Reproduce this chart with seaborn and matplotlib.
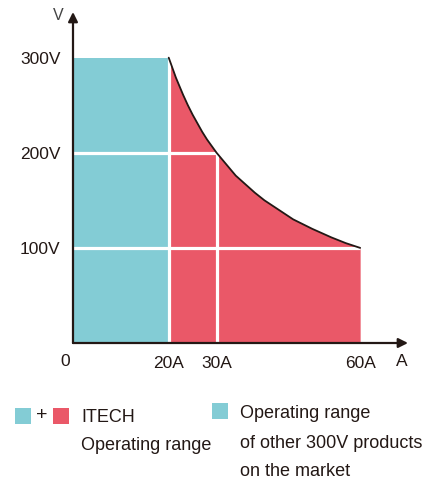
import numpy as np
import pandas as pd
import matplotlib
matplotlib.use("Agg")
import matplotlib.pyplot as plt
from matplotlib.patches import Rectangle
import seaborn as sns

# ---- data ----
other_current = 20      # A, other 300V products
other_voltage = 300     # V
curve_current = [20, 20.5, 21, 21.5, 22, 23, 24, 25, 26, 27, 28, 29, 30, 32, 34, 36,
                 38, 40, 43, 46, 50, 54, 57, 60]
curve_voltage = [300, 293, 286, 279, 273, 261, 250, 240, 231, 222, 214, 207, 200, 188,
                 176, 167, 158, 150, 140, 130, 120, 111, 105, 100]
x_ticks = [20, 30, 60]
x_tick_labels = ["20A", "30A", "60A"]
y_ticks = [100, 200, 300]
y_tick_labels = ["100V", "200V", "300V"]
grid_h = [(100, 60), (200, 30)]   # (voltage, up to current)
grid_v = [(20, 300), (30, 200)]   # (current, up to voltage)
legend_itech = ["ITECH", "Operating range"]
legend_other = ["Operating range", "of other 300V products", "on the market"]

TEAL = "#83CCD5"
RED = "#EA5868"
DARK = "#231815"

sns.set_theme(style="white")
plt.rcParams["font.family"] = ["Liberation Sans", "DejaVu Sans"]

W, H = 443, 482
fig = plt.figure(figsize=(W / 100, H / 100), dpi=100)
ax = fig.add_axes([73 / W, 1 - 343 / H, 335 / W, 331 / H])
ax.set_xlim(0, 70)
ax.set_ylim(0, 348)

df = pd.DataFrame({"I": curve_current, "V": curve_voltage})

# other products rectangle
ax.add_patch(Rectangle((0, 0), other_current, other_voltage, facecolor=TEAL, edgecolor="none", zorder=1))
# ITECH extra region
ax.fill_between(df["I"], df["V"], 0, color=RED, linewidth=0, zorder=1)

# white grid lines
for v, imax in grid_h:
    ax.plot([0, imax], [v, v], color="white", lw=2.3, zorder=2, solid_capstyle="butt")
for i, vmax in grid_v:
    ax.plot([i, i], [0, vmax], color="white", lw=2.3, zorder=2, solid_capstyle="butt")

# boundary curve
sns.lineplot(data=df, x="I", y="V", ax=ax, color=DARK, lw=1.3, zorder=3, sort=False)

# axes with arrows
for s in ax.spines.values():
    s.set_visible(False)
ax.annotate("", xy=(70, 0), xytext=(0, 0),
            arrowprops=dict(arrowstyle="-|>", lw=1.6, color=DARK, mutation_scale=14, shrinkA=0, shrinkB=0),
            annotation_clip=False, zorder=5)
ax.annotate("", xy=(0, 348), xytext=(0, 0),
            arrowprops=dict(arrowstyle="-|>", lw=1.6, color=DARK, mutation_scale=14, shrinkA=0, shrinkB=0),
            annotation_clip=False, zorder=5)

ax.set_xticks(x_ticks)
ax.set_xticklabels(x_tick_labels)
ax.set_yticks(y_ticks)
ax.set_yticklabels(y_tick_labels)
ax.tick_params(axis="both", length=0, labelsize=12.5, colors=DARK)
ax.tick_params(axis="x", pad=9.5)
ax.tick_params(axis="y", pad=9)
ax.set_xlabel("")
ax.set_ylabel("")
ax.grid(False)

fig.text(65 / W, 1 - 362 / H, "0", ha="center", va="center", fontsize=12.5, color=DARK)
fig.text(402 / W, 1 - 362 / H, "A", ha="center", va="center", fontsize=12.5, color=DARK)
fig.text(58 / W, 1 - 16 / H, "V", ha="center", va="center", fontsize=11.5, color="#444444")

# legend
def sq(x, y, c):
    fig.patches.append(Rectangle((x / W, 1 - (y + 16) / H), 16 / W, 16 / H,
                                 transform=fig.transFigure, facecolor=c, edgecolor="none"))

sq(15, 408, TEAL)
fig.text(42 / W, 1 - 416 / H, "+", ha="center", va="center", fontsize=14, color=DARK)
sq(53, 408, RED)
for k, t in enumerate(legend_itech):
    fig.text(81 / W, 1 - (417 + 28 * k) / H, t, ha="left", va="center", fontsize=13, color=DARK)
sq(212, 403, TEAL)
for k, t in enumerate(legend_other):
    fig.text(240 / W, 1 - (414 + 29 * k) / H, t, ha="left", va="center", fontsize=13, color=DARK)

fig.savefig("out.png", dpi=100)
